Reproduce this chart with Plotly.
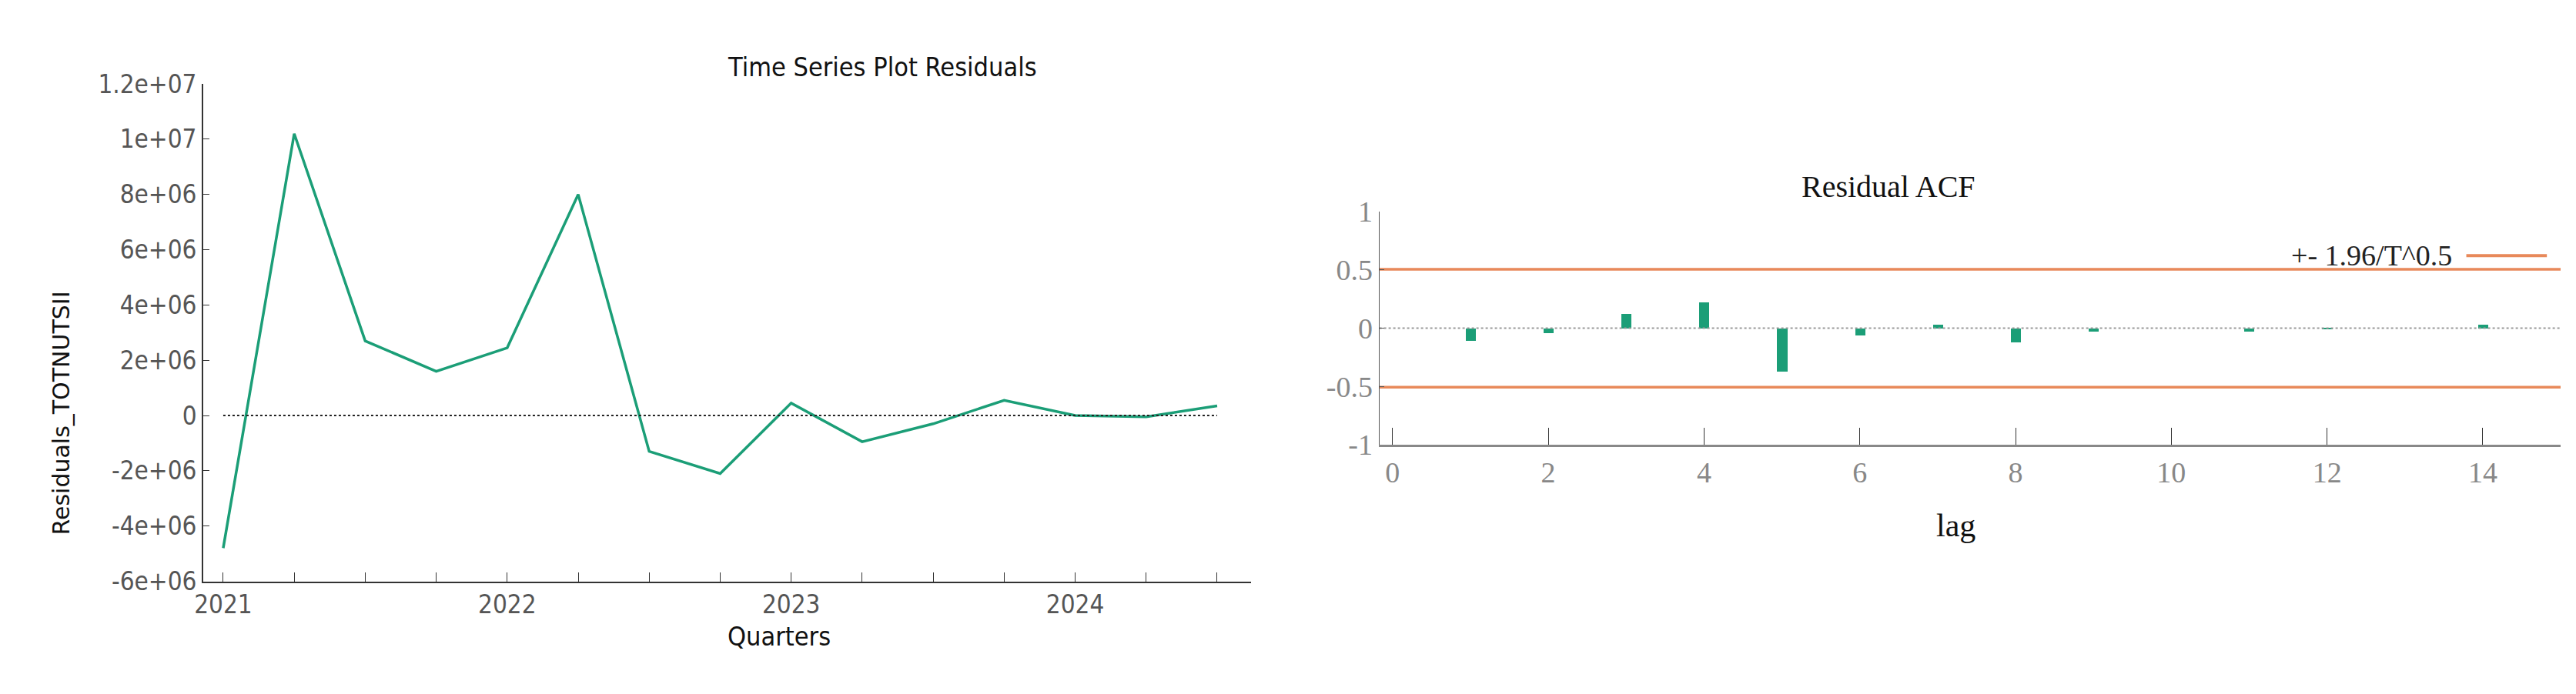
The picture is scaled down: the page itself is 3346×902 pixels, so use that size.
import plotly.graph_objects as go

quarters = [2021 + 0.25 * i for i in range(15)]
residuals = [-4.8e6, 1.02e7, 2.7e6, 1.6e6, 2.45e6, 8.0e6, -1.3e6, -2.1e6,
             0.45e6, -0.95e6, -0.3e6, 0.55e6, 0.0, -0.05e6, 0.35e6]
lags = list(range(1, 15))
acf = [-0.11, -0.04, 0.12, 0.22, -0.37, -0.06, 0.03, -0.12, -0.03, 0.0,
       -0.03, -0.01, 0.0, 0.03]
bound = 0.506
y_ticks_left = [-6e6, -4e6, -2e6, 0, 2e6, 4e6, 6e6, 8e6, 1e7, 1.2e7]
y_labels_left = ["-6e+06", "-4e+06", "-2e+06", "0", "2e+06", "4e+06", "6e+06", "8e+06", "1e+07", "1.2e+07"]

W, H = 3346, 902
GREEN = "#1b9e77"
ORANGE = "#e8895a"
LFONT = "DejaVu Sans Condensed, DejaVu Sans"
RFONT = "Liberation Serif"

fig = go.Figure()
fig.add_trace(go.Scatter(x=quarters, y=residuals, mode="lines",
                         line=dict(color=GREEN, width=3.5), xaxis="x", yaxis="y", showlegend=False))
fig.add_trace(go.Scatter(x=[2021, 2024.5], y=[0, 0], mode="lines",
                         line=dict(color="#222", width=2, dash="dot"), xaxis="x", yaxis="y", showlegend=False))
fig.add_trace(go.Scatter(x=[-0.17, 15], y=[0, 0], mode="lines",
                         line=dict(color="#999", width=2, dash="dot"), xaxis="x2", yaxis="y2", showlegend=False))
fig.add_trace(go.Bar(x=lags, y=acf, width=0.13, marker=dict(color=GREEN, line=dict(width=0)),
                     xaxis="x2", yaxis="y2", showlegend=False))
for b in (bound, -bound):
    fig.add_trace(go.Scatter(x=[-0.17, 15], y=[b, b], mode="lines",
                             line=dict(color=ORANGE, width=3.5), xaxis="x2", yaxis="y2", showlegend=False))

fig.update_layout(
    width=W, height=H, margin=dict(l=0, r=0, t=0, b=0),
    plot_bgcolor="white", paper_bgcolor="white", bargap=0,
    xaxis=dict(domain=[245/W, 1611/W], range=[2020.93, 2024.62], showgrid=False, zeroline=False,
               showline=True, linecolor="#333", linewidth=2, ticks="inside", ticklen=12, tickcolor="#333",
               tickvals=quarters, ticktext=[str(int(q)) if q == int(q) else "" for q in quarters],
               tickfont=dict(family=LFONT, size=33, color="#555"), anchor="y"),
    yaxis=dict(domain=[1-762/H, 1-84/H], range=[-6e6, 1.2e7], showgrid=False, zeroline=False,
               showline=True, linecolor="#333", linewidth=2, ticks="inside", ticklen=8, tickcolor="#333",
               tickvals=y_ticks_left, ticktext=y_labels_left,
               tickfont=dict(family=LFONT, size=33, color="#555"), anchor="x"),
    xaxis2=dict(domain=[1778/W, 3318/W], range=[-0.17, 15], showgrid=False, zeroline=False,
                showline=True, linecolor="#888", linewidth=3, ticks="inside", ticklen=22, tickcolor="#333",
                tickvals=list(range(0, 16, 2)), tickfont=dict(family=RFONT, size=38, color="#888"), anchor="y2"),
    yaxis2=dict(domain=[1-576/H, 1-258/H], range=[-1, 1], showgrid=False, zeroline=False,
                showline=True, linecolor="#555", linewidth=1, ticks="inside", ticklen=6, tickcolor="#555",
                tickvals=[-1, -0.5, 0, 0.5, 1], ticktext=["-1", "-0.5", "0", "0.5", "1"],
                tickfont=dict(family=RFONT, size=38, color="#888"), anchor="x2"),
    annotations=[
        dict(text="Time Series Plot Residuals", x=926/W, y=1-38/H, xref="paper", yref="paper",
             showarrow=False, font=dict(family=LFONT, size=34, color="#111")),
        dict(text="Residuals_TOTNUTSII", x=40/W, y=1-533/H, xref="paper", yref="paper", textangle=-90,
             showarrow=False, font=dict(family="DejaVu Sans", size=30, color="#111")),
        dict(text="Quarters", x=926/W, y=1-860/H, xref="paper", yref="paper",
             showarrow=False, font=dict(family=LFONT, size=34, color="#111")),
        dict(text="Residual ACF", x=2557/W, y=1-198/H, xref="paper", yref="paper",
             showarrow=False, font=dict(family=RFONT, size=40, color="#111")),
        dict(text="lag", x=2557/W, y=1-712/H, xref="paper", yref="paper",
             showarrow=False, font=dict(family=RFONT, size=42, color="#111")),
        dict(text="+- 1.96/T^0.5", x=3178/W, y=1-318/H, xref="paper", yref="paper", xanchor="right",
             showarrow=False, font=dict(family=RFONT, size=38, color="#222")),
    ],
    shapes=[dict(type="line", xref="paper", yref="paper", x0=3195/W, x1=3300/W, y0=1-318/H, y1=1-318/H,
                 line=dict(color=ORANGE, width=4))],
)
fig.write_html("out.html")
